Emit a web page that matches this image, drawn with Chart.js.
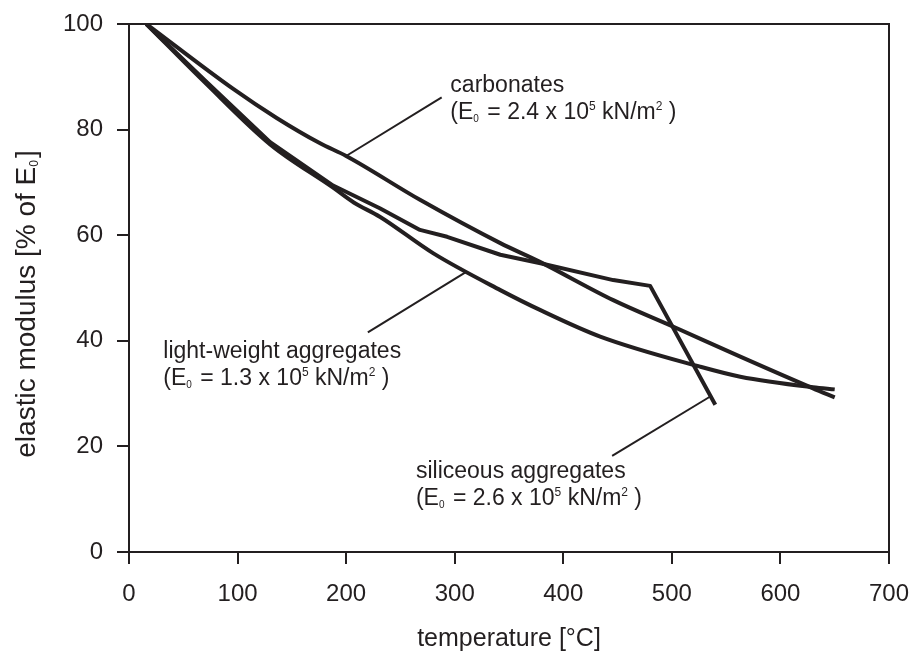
<!DOCTYPE html>
<html lang="en">
<head>
    <meta charset="UTF-8">
    <title>Elastic modulus vs temperature</title>
    <script src="https://cdn.jsdelivr.net/npm/chart.js@4.4.1/dist/chart.umd.min.js"></script>
    <style>
        html, body { margin: 0; padding: 0; background: #fff; }
        #wrap { width: 912px; height: 653px; }
    </style>
</head>
<body>
    <div id="wrap"><canvas id="modulusChart"></canvas></div>

    <script>
        // temperature [°C] / elastic modulus [% of E0]
        const carbonatesT = [16, 96, 136, 176, 200, 268, 342, 378, 446, 501, 563, 630, 650];
        const carbonatesE = [100, 87.7, 82.2, 77.4, 75.0, 66.7, 58.5, 55.0, 47.7, 42.7, 37.0, 31.0, 29.3];

        const siliceousT = [16, 70, 130, 188, 231, 268, 293, 342, 379, 446, 480, 540];
        const siliceousE = [100, 89.3, 77.6, 69.4, 65.1, 61.0, 59.7, 56.3, 54.7, 51.5, 50.4, 27.9];

        const lightWeightT = [16, 70, 130, 188, 207, 231, 280, 342, 379, 434, 526, 563, 630, 650];
        const lightWeightE = [100, 88.9, 77.2, 69.0, 66.2, 63.5, 56.6, 49.6, 45.8, 40.8, 35.1, 33.2, 31.2, 30.8];

        // leader lines from the labels to their curves
        const leaderCarbonatesT = [200, 288];
        const leaderCarbonatesE = [75.0, 86.1];
        const leaderLightT = [311, 220];
        const leaderLightE = [53.1, 41.6];
        const leaderSiliceousT = [535, 445];
        const leaderSiliceousE = [29.4, 18.2];

        const xTicks = [0, 100, 200, 300, 400, 500, 600, 700];
        const yTicks = [0, 20, 40, 60, 80, 100];

        const ink = '#231f20';
        const family = '"Liberation Sans", Arial, Helvetica, sans-serif';
        Chart.defaults.font.family = family;
        Chart.defaults.color = ink;

        const toPoints = (xs, ys) => xs.map((x, i) => ({ x: x, y: ys[i] }));

        function curve(label, xs, ys, width, smooth) {
            return {
                label: label,
                data: toPoints(xs, ys),
                borderColor: ink,
                borderWidth: width,
                borderCapStyle: 'butt',
                borderJoinStyle: 'round',
                pointRadius: 0,
                tension: smooth ? 0.4 : 0,
                cubicInterpolationMode: smooth ? 'monotone' : 'default',
                fill: false
            };
        }

        // label text: plain runs plus sub/superscripts
        const notes = [
            { x: 296, y: 87.1, lines: [
                [{ t: 'carbonates' }],
                [{ t: '(E' }, { t: '0', sub: true }, { t: ' = 2.4 x 10' }, { t: '5', sup: true }, { t: ' kN/m' }, { t: '2', sup: true }, { t: ' )' }]
            ] },
            { x: 31.6, y: 36.7, lines: [
                [{ t: 'light-weight aggregates' }],
                [{ t: '(E' }, { t: '0', sub: true }, { t: ' = 1.3 x 10' }, { t: '5', sup: true }, { t: ' kN/m' }, { t: '2', sup: true }, { t: ' )' }]
            ] },
            { x: 264.3, y: 14.0, lines: [
                [{ t: 'siliceous aggregates' }],
                [{ t: '(E' }, { t: '0', sub: true }, { t: ' = 2.6 x 10' }, { t: '5', sup: true }, { t: ' kN/m' }, { t: '2', sup: true }, { t: ' )' }]
            ] }
        ];

        const yTitle = [{ t: 'elastic modulus [% of E' }, { t: '0', sub: true }, { t: ']' }];

        function runFont(run, size) {
            let s = size;
            if (run.sub) s = Math.round(size * 0.42);
            if (run.sup) s = Math.round(size * 0.5);
            return s + 'px ' + family;
        }

        function runWidth(ctx, runs, size) {
            let w = 0;
            runs.forEach(r => { ctx.font = runFont(r, size); w += ctx.measureText(r.t).width + (r.sub ? 2 : 0); });
            return w;
        }

        function drawRuns(ctx, runs, x, y, size) {
            ctx.textBaseline = 'alphabetic';
            ctx.textAlign = 'left';
            runs.forEach(r => {
                ctx.font = runFont(r, size);
                let dy = 0;
                if (r.sub) dy = size * 0.12;
                if (r.sup) dy = -size * 0.38;
                ctx.fillText(r.t, x, y + dy);
                x += ctx.measureText(r.t).width + (r.sub ? 2 : 0);
            });
        }

        const frameAndNotes = {
            id: 'frameAndNotes',
            afterDatasetsDraw(chart) {
                const { ctx, chartArea: a, scales } = chart;
                ctx.save();
                ctx.strokeStyle = ink;
                ctx.lineWidth = 2;
                ctx.beginPath();
                ctx.moveTo(a.left, a.top);
                ctx.lineTo(a.right, a.top);
                ctx.lineTo(a.right, a.bottom);
                ctx.stroke();

                ctx.fillStyle = ink;
                notes.forEach(n => {
                    const px = scales.x.getPixelForValue(n.x);
                    const py = scales.y.getPixelForValue(n.y);
                    n.lines.forEach((runs, i) => drawRuns(ctx, runs, px, py + i * 27, 23));
                });

                // rotated y title with subscript
                const size = 28;
                const w = runWidth(ctx, yTitle, size);
                ctx.translate(35, 304);
                ctx.rotate(-Math.PI / 2);
                drawRuns(ctx, yTitle, -w / 2, 0, size);
                ctx.restore();
            }
        };

        const ctx = document.getElementById('modulusChart').getContext('2d');
        new Chart(ctx, {
            type: 'line',
            data: {
                datasets: [
                    curve('carbonates', carbonatesT, carbonatesE, 4, true),
                    curve('siliceous aggregates', siliceousT, siliceousE, 4, false),
                    curve('light-weight aggregates', lightWeightT, lightWeightE, 4, true),
                    curve('', leaderCarbonatesT, leaderCarbonatesE, 2, false),
                    curve('', leaderLightT, leaderLightE, 2, false),
                    curve('', leaderSiliceousT, leaderSiliceousE, 2, false)
                ]
            },
            options: {
                responsive: true,
                maintainAspectRatio: false,
                animation: false,
                layout: { padding: { top: 24, right: 23, left: 0, bottom: 0 } },
                plugins: {
                    legend: { display: false },
                    tooltip: { enabled: false }
                },
                scales: {
                    x: {
                        type: 'linear',
                        min: 0,
                        max: 700,
                        afterFit: scale => {
                            scale.height = 101;
                            scale.paddingLeft = 0;
                            scale.paddingRight = 0;
                        },
                        afterBuildTicks: scale => { scale.ticks = xTicks.map(v => ({ value: v })); },
                        ticks: { color: ink, padding: 16, font: { size: 24 } },
                        grid: { drawOnChartArea: false, tickLength: 12, color: ink, lineWidth: 2 },
                        border: { display: true, color: ink, width: 2 },
                        title: {
                            display: true,
                            text: 'temperature [°C]',
                            color: ink,
                            font: { size: 25, lineHeight: 1 },
                            padding: { top: 0, bottom: 1 }
                        }
                    },
                    y: {
                        type: 'linear',
                        min: 0,
                        max: 100,
                        afterFit: scale => {
                            scale.width = 129;
                            scale.paddingTop = 0;
                            scale.paddingBottom = 0;
                        },
                        afterBuildTicks: scale => { scale.ticks = yTicks.map(v => ({ value: v })); },
                        ticks: { color: ink, padding: 14, font: { size: 24 } },
                        grid: { drawOnChartArea: false, tickLength: 12, color: ink, lineWidth: 2 },
                        border: { display: true, color: ink, width: 2 }
                    }
                }
            },
            plugins: [frameAndNotes]
        });
    </script>
</body>
</html>
